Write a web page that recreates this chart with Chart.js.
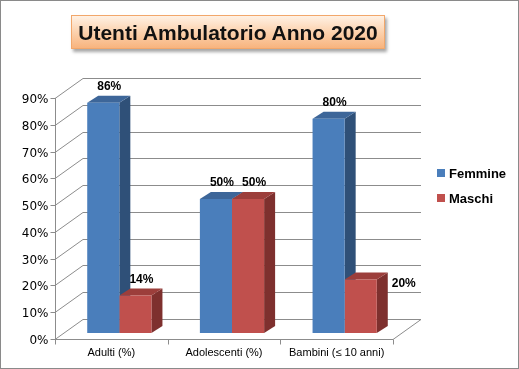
<!DOCTYPE html>
<html lang="it">
<head>
    <meta charset="UTF-8">
    <title>Utenti Ambulatorio Anno 2020</title>
    <style>
        body {
            margin: 0;
            background: #fff;
        }
        #wrap {
            position: relative;
            width: 519px;
            height: 369px;
        }
        #frame {
            position: absolute;
            left: 0; top: 0;
            width: 517px; height: 367px;
            border: 1px solid #8a8a8a;
        }
        #title {
            position: absolute;
            left: 71px; top: 15px;
            width: 312px; height: 32px;
            border: 1px solid #f2a76b;
            background: linear-gradient(to bottom, #fff1e4 0%, #fcd2ae 50%, #f8b47e 100%);
            box-shadow: 2px 3px 3px rgba(0,0,0,0.35);
            font: bold 21px "Liberation Sans", Arial, sans-serif;
            color: #111;
            text-align: center;
            line-height: 33px;
            white-space: nowrap;
        }
        canvas {
            position: absolute;
            left: 0; top: 0;
        }
    </style>
    <script src="https://cdn.jsdelivr.net/npm/chart.js"></script>
</head>
<body>
<div id="wrap">
    <canvas id="chart" width="519" height="369"></canvas>
    <div id="frame"></div>
    <div id="title">Utenti Ambulatorio Anno 2020</div>
</div>

<script>
    // dati
    const categories = ['Adulti (%)', 'Adolescenti (%)', 'Bambini (≤ 10 anni)'];
    const femmine = [86, 50, 80];
    const maschi = [14, 50, 20];
    const yTicks = [0, 10, 20, 30, 40, 50, 60, 70, 80, 90];
    const seriesNames = ['Femmine', 'Maschi'];

    // colori (fronte, lato, sopra)
    const colors = [
        { front: '#4a7ebb', side: '#2f5078', top: '#3d6699' },
        { front: '#c0504d', side: '#7e302e', top: '#9c3e3b' }
    ];

    // spostamenti prospettiva rispetto al piano delle barre
    const FRONT = { x: -8, y: 6 };
    const BACK = { x: 20, y: -14 };
    const DEPTH = { x: 11, y: -7 };

    function poly(ctx, pts, fill) {
        ctx.beginPath();
        ctx.moveTo(pts[0][0], pts[0][1]);
        for (let i = 1; i < pts.length; i++) ctx.lineTo(pts[i][0], pts[i][1]);
        ctx.closePath();
        ctx.fillStyle = fill;
        ctx.fill();
    }

    const plot3d = {
        id: 'plot3d',
        beforeDatasetsDraw(chart) {
            const ctx = chart.ctx;
            const a = chart.chartArea;
            const ys = chart.scales.y;
            const xs = chart.scales.x;
            ctx.save();
            ctx.strokeStyle = '#8c8c8c';
            ctx.lineWidth = 1;

            // pareti e griglia
            yTicks.forEach(v => {
                const y = Math.round(ys.getPixelForValue(v)) + 0.5;
                ctx.beginPath();
                ctx.moveTo(a.left + FRONT.x, y + FRONT.y);
                ctx.lineTo(a.left + BACK.x, y + BACK.y);
                ctx.lineTo(a.right + BACK.x, y + BACK.y);
                ctx.stroke();
            });

            // pavimento
            const yb = Math.round(ys.getPixelForValue(0)) + 0.5;
            ctx.beginPath();
            ctx.moveTo(a.left + FRONT.x, yb + FRONT.y);
            ctx.lineTo(a.right + FRONT.x, yb + FRONT.y);
            ctx.lineTo(a.right + BACK.x, yb + BACK.y);
            ctx.stroke();

            // asse verticale frontale
            const xa = a.left + FRONT.x + 0.5;
            ctx.beginPath();
            ctx.moveTo(xa, Math.round(ys.getPixelForValue(90)) + FRONT.y);
            ctx.lineTo(xa, yb + FRONT.y);
            ctx.stroke();

            ctx.fillStyle = '#000';
            ctx.font = '12px "DejaVu Sans", sans-serif';
            ctx.textAlign = 'right';
            ctx.textBaseline = 'middle';
            yTicks.forEach(v => {
                const y = Math.round(ys.getPixelForValue(v)) + 0.5 + FRONT.y;
                ctx.beginPath();
                ctx.moveTo(xa - 5, y);
                ctx.lineTo(xa, y);
                ctx.stroke();
                ctx.fillText(v + '%', xa - 7, y + 1);
            });

            // tacche e etichette categorie
            const catW = (a.right - a.left) / categories.length;
            for (let i = 0; i <= categories.length; i++) {
                const x = Math.round(a.left + FRONT.x + i * catW) + 0.5;
                ctx.beginPath();
                ctx.moveTo(x, yb + FRONT.y);
                ctx.lineTo(x, yb + FRONT.y + 5);
                ctx.stroke();
            }
            ctx.font = '11px "Liberation Sans", Arial, sans-serif';
            ctx.textAlign = 'center';
            categories.forEach((c, i) => {
                ctx.fillText(c, xs.getPixelForValue(i) + FRONT.x, yb + FRONT.y + 13);
            });

            // facce laterali e superiori delle barre
            chart.data.datasets.forEach((ds, di) => {
                chart.getDatasetMeta(di).data.forEach(bar => {
                    const x0 = bar.x - bar.width / 2;
                    const x1 = bar.x + bar.width / 2;
                    const t = bar.y;
                    const b = bar.base;
                    poly(ctx, [[x1, t], [x1 + DEPTH.x, t + DEPTH.y], [x1 + DEPTH.x, b + DEPTH.y], [x1, b]], colors[di].side);
                    poly(ctx, [[x0, t], [x1, t], [x1 + DEPTH.x, t + DEPTH.y], [x0 + DEPTH.x, t + DEPTH.y]], colors[di].top);
                });
            });
            ctx.restore();
        },
        afterDatasetsDraw(chart) {
            const ctx = chart.ctx;
            ctx.save();
            ctx.fillStyle = '#000';
            ctx.font = 'bold 12px "Liberation Sans", Arial, sans-serif';
            ctx.textAlign = 'center';
            ctx.textBaseline = 'middle';
            chart.data.datasets.forEach((ds, di) => {
                chart.getDatasetMeta(di).data.forEach((bar, i) => {
                    const txt = ds.data[i] + '%';
                    if (di === 1 && i === 2) {
                        // etichetta a destra della barra
                        ctx.fillText(txt, bar.x + bar.width / 2 + 27, bar.y + 4);
                    } else {
                        ctx.fillText(txt, bar.x + 6, bar.y - 16);
                    }
                });
            });

            // legenda
            ctx.font = 'bold 13px "Liberation Sans", Arial, sans-serif';
            ctx.textAlign = 'left';
            seriesNames.forEach((n, i) => {
                const y = 173 + i * 25;
                ctx.fillStyle = colors[i].front;
                ctx.fillRect(437, y - 4, 8, 8);
                ctx.fillStyle = '#000';
                ctx.fillText(n, 449, y + 1);
            });
            ctx.restore();
        }
    };

    new Chart(document.getElementById('chart'), {
        type: 'bar',
        data: {
            labels: categories,
            datasets: [
                { label: seriesNames[0], data: femmine, backgroundColor: colors[0].front },
                { label: seriesNames[1], data: maschi, backgroundColor: colors[1].front }
            ]
        },
        options: {
            responsive: false,
            animation: false,
            layout: { padding: { left: 63, right: 118, top: 92, bottom: 36 } },
            datasets: {
                bar: { barPercentage: 1, categoryPercentage: 0.57 }
            },
            scales: {
                x: { display: false },
                y: { display: false, min: 0, max: 90 }
            },
            plugins: {
                legend: { display: false },
                tooltip: { enabled: false }
            }
        },
        plugins: [plot3d]
    });
</script>
</body>
</html>
